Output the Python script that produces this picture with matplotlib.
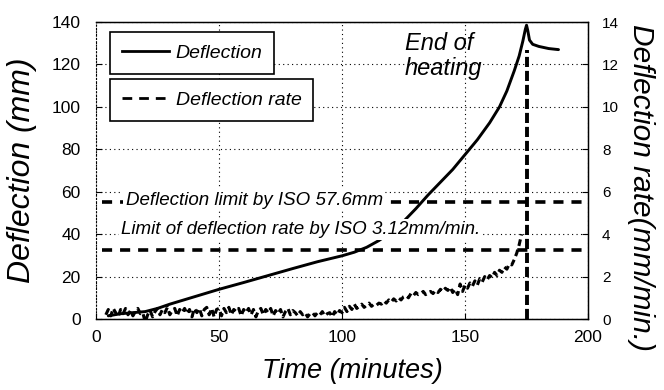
import matplotlib.pyplot as plt
from matplotlib.lines import Line2D

plt.rcParams['font.family'] = ['Liberation Sans', 'DejaVu Sans']

# deflection (left axis, mm)
defl_time = [5, 10, 15, 20, 25, 30, 40, 50, 60, 70, 80, 90, 100, 105, 110, 115,
             120, 125, 130, 135, 140, 145, 150, 155, 160, 164, 167, 170, 172,
             173.5, 174.5, 175, 175.5, 176.2, 177.5, 180, 184, 188]
defl_mm = [1.5, 2.5, 3, 3.5, 5, 7, 10.5, 14, 17.2, 20.5, 23.8, 27, 29.8, 31.5,
           33.8, 37, 41, 46, 52, 58.5, 64.5, 70.5, 77.5, 84.5, 92.5, 100, 107.5,
           117, 124, 131, 136.5, 138.5, 136, 131.5, 129.5, 128.5, 127.5, 127]

# deflection rate (right axis, mm/min), one reading per minute from 4 to 173
rate_time = list(range(4, 174))
rate = [0.2, 0.45, 0.15, 0.5, 0.3, 0.1, 0.45, 0.25, 0.5, 0.2, 0.4, 0.15, 0.35, 0.5, 0.25, 0.3, -0.15,
        0.2, 0.4, 0.1, 0.35, 0.5, 0.2, 0.45, 0.3, 0.55, 0.2, 0.4, 0.5, 0.15, 0.45, 0.3, 0.5, 0.25, 0.45, 0.1, 0.5,
        0.3, 0.5, 0.15, 0.45, 0.55, 0.2, 0.5, 0.1, 0.45, 0.5, 0.15, 0.5, 0.3, 0.55, 0.2, 0.45, 0.35, 0.5, 0.15, 0.45,
        0.3, 0.5, 0.2, 0.45, 0.1, 0.4, 0.5, 0.2, 0.45, 0.3, 0.5, 0.15, 0.4, 0.25, 0.45, 0.1, 0.35, 0.5, 0.2, 0.4,
        0.3, 0.15, 0.35, 0.2, 0.3, 0.1, 0.25, 0.3, 0.15, 0.3, 0.2, 0.35, 0.15, 0.25, 0.3, 0.1, 0.35, 0.2, 0.4, 0.3,
        0.55, 0.35, 0.6, 0.45, 0.7, 0.5, 0.6, 0.7, 0.55, 0.65, 0.75, 0.6, 0.7, 0.65, 0.75, 0.7, 0.85, 0.75, 0.9, 0.8,
        0.95, 0.85, 1.0, 0.9, 1.05, 1.1, 1.0, 1.2, 1.1, 1.25, 1.15, 1.2, 1.3, 1.15, 1.25, 1.3, 1.2, 1.35, 1.25, 1.4,
        1.3, 1.45, 1.35, 1.5, 1.25, 1.4, 1.15, 1.65, 1.3, 1.6, 1.45, 1.7, 1.55, 1.8, 1.6, 1.9, 1.75, 2.0, 1.85, 2.05,
        1.95, 2.2, 2.05, 2.3, 2.2, 2.45, 2.35, 2.6, 2.55, 2.8, 3.1, 3.5, 4.0]

end_heating = 175
end_rate_top = 12.7
defl_limit = 55        # drawn level of "57.6mm" line
rate_limit_mm = 32.5   # drawn level of "3.12mm/min." line
limit_start = 2.5

fig = plt.figure(figsize=(6.64, 3.9), dpi=100)
ax = fig.add_axes([0.1446, 0.182, 0.741, 0.7615])
ax2 = ax.twinx()

ax.set_xlim(0, 200)
ax.set_ylim(0, 140)
ax2.set_ylim(0, 14)
ax.set_xticks([0, 50, 100, 150, 200])
ax.set_yticks(range(0, 141, 20))
ax2.set_yticks(range(0, 15, 2))

ax.grid(True, color='black', linestyle=(0, (1, 3)), linewidth=0.8)
ax.tick_params(axis='x', labelsize=12.5, direction='in', length=4, pad=8)
ax.tick_params(axis='y', labelsize=12.5, direction='in', length=4, pad=11)
ax2.tick_params(axis='y', labelsize=11, direction='in', length=4, pad=10)
ax.spines['left'].set_linestyle((0, (1, 2)))
ax2.spines['left'].set_visible(False)
for s in ['top', 'right', 'bottom']:
    ax2.spines[s].set_linewidth(1.0)

ax.plot(defl_time, defl_mm, color='black', lw=2.1, solid_capstyle='round')
ax2.plot(rate_time, rate, color='black', lw=2.2, dashes=(2.2, 1.3))
ax2.plot([end_heating, end_heating], [0, end_rate_top], color='black', lw=2.8,
         dashes=(2.6, 1.0))
ax.plot([limit_start, 200], [defl_limit, defl_limit], color='black', lw=2.6,
        dashes=(2.8, 2.2))
ax.plot([limit_start, 200], [rate_limit_mm, rate_limit_mm], color='black', lw=2.6,
        dashes=(2.8, 2.2))

bb = dict(facecolor='white', edgecolor='none', pad=1.5)
ax2.text(12, 5.61, 'Deflection limit by ISO 57.6mm', fontsize=13.5,
         style='italic', va='center', ha='left', bbox=bb, zorder=5)
ax2.text(10, 4.2, 'Limit of deflection rate by ISO 3.12mm/min.', fontsize=13.5,
         style='italic', va='center', ha='left', bbox=bb, zorder=5)
ax2.text(125.5, 12.4, 'End of\nheating', fontsize=17, style='italic',
         va='center', ha='left', linespacing=1.1)

leg_kw = dict(loc='upper left', fancybox=False, edgecolor='black',
              framealpha=1, handlelength=2.4, handletextpad=0.35, borderpad=0.62,
              borderaxespad=0, prop={'style': 'italic', 'size': 14})
h1 = Line2D([], [], color='black', lw=2.0)
h2 = Line2D([], [], color='black', lw=2.0, dashes=(3.5, 2.5))
l1 = ax2.legend([h1], ['Deflection'], bbox_to_anchor=(0.0285, 0.966), **leg_kw)
l1.get_frame().set_linewidth(1.2)
ax2.add_artist(l1)
l2 = ax2.legend([h2], ['Deflection rate'], bbox_to_anchor=(0.0285, 0.808), **leg_kw)
l2.get_frame().set_linewidth(1.2)

fig.text(0.0331, 0.564, 'Deflection (mm)', rotation=90, ha='center', va='center',
         fontsize=23, style='italic')
fig.text(0.965, 0.52, 'Deflection rate(mm/min.)', rotation=-90, ha='center',
         va='center', fontsize=21.5, style='italic')
fig.text(0.530, 0.049, 'Time (minutes)', ha='center', va='center', fontsize=19.5,
         style='italic')

fig.savefig('out.png', dpi=100)
